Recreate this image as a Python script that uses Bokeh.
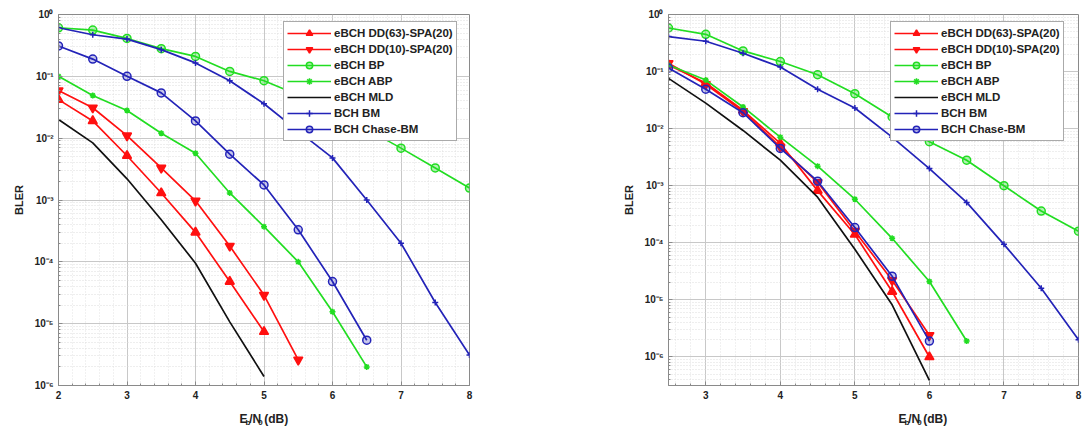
from bokeh.plotting import figure
from bokeh.layouts import row, column
from bokeh.models import FixedTicker, CustomJSTickFormatter, Legend
from bokeh.embed import file_html
from bokeh.resources import INLINE
from bokeh.core.properties import value

# ---------------- data ----------------
snr_left = [2.0, 2.5, 3.0, 3.5, 4.0, 4.5, 5.0, 5.5, 6.0, 6.5, 7.0, 7.5, 8.0]
snr_right = [2.5, 3.0, 3.5, 4.0, 4.5, 5.0, 5.5, 6.0, 6.5, 7.0, 7.5, 8.0]

dd63_left = [0.042, 0.019, 5.2e-3, 1.3e-3, 3.0e-4, 4.8e-5, 7.4e-6]
dd10_left = [0.059, 0.031, 0.011, 3.3e-3, 9.7e-4, 1.8e-4, 2.9e-5, 2.6e-6]
bp_left = [0.61, 0.56, 0.41, 0.28, 0.21, 0.12, 0.085, 0.05, 0.028, 0.014, 6.9e-3, 3.3e-3, 1.56e-3]
abp_left = [0.10, 0.049, 0.028, 0.012, 5.7e-3, 1.3e-3, 3.7e-4, 1.0e-4, 1.56e-5, 2.0e-6]
mld_left = [0.020, 8.4e-3, 2.2e-3, 4.8e-4, 9.5e-5, 1.07e-5, 1.4e-6]
bm_left = [0.61, 0.47, 0.40, 0.27, 0.165, 0.085, 0.036, 0.013, 4.8e-3, 1.0e-3, 2.0e-4, 2.2e-5, 3.1e-6]
chase_left = [0.31, 0.19, 0.10, 0.054, 0.019, 5.5e-3, 1.75e-3, 3.3e-4, 4.8e-5, 5.4e-6]

dd63_right = [0.13, 0.063, 0.021, 5.5e-3, 8.2e-4, 1.4e-4, 1.4e-5, 1.0e-6]
dd10_right = [0.14, 0.060, 0.020, 4.8e-3, 1.15e-3, 1.6e-4, 2.2e-5, 2.4e-6]
bp_right = [0.58, 0.45, 0.23, 0.15, 0.088, 0.041, 0.016, 5.9e-3, 2.8e-3, 1.0e-3, 3.6e-4, 1.6e-4]
abp_right = [0.13, 0.071, 0.024, 7.1e-3, 2.2e-3, 5.8e-4, 1.2e-4, 2.1e-5, 1.9e-6]
mld_right = [0.076, 0.028, 9.3e-3, 2.8e-3, 6.3e-4, 7.7e-5, 8.2e-6, 3.9e-7]
bm_right = [0.41, 0.34, 0.21, 0.12, 0.049, 0.023, 7.1e-3, 2.0e-3, 5.1e-4, 9.4e-5, 1.6e-5, 2.0e-6]
chase_right = [0.115, 0.049, 0.019, 4.5e-3, 1.2e-3, 1.85e-4, 2.6e-5, 1.9e-6]

series_names = ["eBCH DD(63)-SPA(20)", "eBCH DD(10)-SPA(20)", "eBCH BP", "eBCH ABP",
                "eBCH MLD", "BCH BM", "BCH Chase-BM"]
x_ticks_left = [2, 3, 4, 5, 6, 7, 8]
x_ticks_right = [3, 4, 5, 6, 7, 8]
y_decades = [-6, -5, -4, -3, -2, -1, 0]
# x label pieces: (text, kind, gap before in em of main font)
x_label_parts = [("E", "main", 0.0), ("b", "sub", 0.0), ("/N", "main", 0.0),
                 ("0", "sub", 0.0), ("(dB)", "main", 0.278)]

RED = "#FF1010"
GREEN = "#22DD22"
BLUE = "#2323B8"
FONT = "Liberation Sans"
TXT = "#222222"

styles = [
    dict(color=RED, marker="triangle", size=9, fill=RED, fill_alpha=1.0),
    dict(color=RED, marker="inverted_triangle", size=9, fill=RED, fill_alpha=1.0),
    dict(color=GREEN, marker="circle", size=8, fill=GREEN, fill_alpha=0.35),
    dict(color=GREEN, marker="asterisk", size=6, fill=GREEN, fill_alpha=1.0),
    dict(color="#111111", marker=None, size=0, fill=None, fill_alpha=0),
    dict(color=BLUE, marker="cross", size=6, fill=BLUE, fill_alpha=1.0),
    dict(color=BLUE, marker="circle", size=8, fill=BLUE, fill_alpha=0.25),
]

sup_code = """
const e = Math.round(Math.log10(tick));
const sup = {'-':'\u207b','0':'\u2070','1':'\u00b9','2':'\u00b2','3':'\u00b3','4':'\u2074','5':'\u2075','6':'\u2076','7':'\u2077','8':'\u2078','9':'\u2079'};
return '10' + String(e).split('').map(c => sup[c]).join('');
"""

# approximate advance widths (em) of Liberation Sans Bold, for laying out the x label
EM = {"E": 0.667, "b": 0.611, "/": 0.278, "N": 0.722, "0": 0.556, " ": 0.278,
      "(": 0.333, "d": 0.611, "B": 0.722, ")": 0.333}
MAIN_PX, SUB_PX = 12, 8

FIG_W, FIG_H, LAB_H = 543, 402, 30


def make_panel(snr, data, xr, yr, xticks, bl, br, legend_loc):
    p = figure(width=FIG_W, height=FIG_H, x_range=xr, y_range=yr, y_axis_type="log",
               output_backend="svg", toolbar_location=None,
               min_border_left=bl, min_border_right=br, min_border_top=14,
               min_border_bottom=17, background_fill_color="white",
               border_fill_color="white")
    p.outline_line_color = "#8a8a8a"
    p.outline_line_width = 1

    yt = [10.0 ** d for d in y_decades]
    ymin = [m * 10.0 ** d for d in range(-7, 0) for m in range(2, 10)]
    p.yaxis.ticker = FixedTicker(ticks=yt, minor_ticks=ymin)
    p.yaxis.formatter = CustomJSTickFormatter(code=sup_code)
    xmin = [x / 5 for x in range(10, 41)]
    p.xaxis.ticker = FixedTicker(ticks=xticks, minor_ticks=xmin)

    for ax in (p.xaxis[0], p.yaxis[0]):
        ax.axis_line_color = "#8a8a8a"
        ax.major_tick_line_color = "#8a8a8a"
        ax.minor_tick_line_color = "#8a8a8a"
        ax.major_tick_in = 4
        ax.major_tick_out = 0
        ax.minor_tick_in = 2
        ax.minor_tick_out = 0
        ax.major_label_text_font = FONT
        ax.major_label_text_font_size = "10px"
        ax.major_label_text_font_style = "bold"
        ax.major_label_text_color = TXT
    p.xaxis.major_label_standoff = 5
    p.yaxis.major_label_standoff = 5
    p.yaxis.axis_label = "BLER"
    p.yaxis.axis_label_text_font = FONT
    p.yaxis.axis_label_text_font_size = "11px"
    p.yaxis.axis_label_text_font_style = "bold"
    p.yaxis.axis_label_text_color = TXT
    p.yaxis.axis_label_standoff = 6

    p.xgrid.grid_line_color = "#c8c8c8"
    p.ygrid.grid_line_color = "#c8c8c8"
    p.xgrid.minor_grid_line_color = "#e2e2e2"
    p.ygrid.minor_grid_line_color = "#dcdcdc"
    p.xgrid.minor_grid_line_dash = "1 2"
    p.ygrid.minor_grid_line_dash = "1 2"

    items = []
    for name, vals, st in zip(series_names, data, styles):
        xs = snr[:len(vals)]
        rs = [p.line(xs, vals, line_color=st["color"], line_width=1.7)]
        if st["marker"] is not None:
            rs.append(p.scatter(xs, vals, marker=st["marker"], size=st["size"],
                                line_color=st["color"], line_width=1.5,
                                fill_color=st["fill"], fill_alpha=st["fill_alpha"]))
        items.append((name, rs))

    leg = Legend(items=items, location=legend_loc)
    leg.label_text_font = FONT
    leg.label_text_font_size = "11.5px"
    leg.label_text_font_style = "bold"
    leg.label_text_color = TXT
    leg.glyph_width = 44
    leg.glyph_height = 16
    leg.label_height = 16
    leg.label_standoff = 3
    leg.spacing = 0
    leg.padding = 3
    leg.margin = 0
    leg.border_line_color = "#555555"
    leg.border_line_width = 1
    leg.background_fill_alpha = 1.0
    p.add_layout(leg, "center")
    return p


def make_xlabel(center_px):
    f = figure(width=FIG_W, height=LAB_H, x_range=(0, FIG_W), y_range=(0, LAB_H),
               output_backend="svg", toolbar_location=None, min_border=0,
               x_axis_type=None, y_axis_type=None, outline_line_color=None,
               background_fill_color="white", border_fill_color="white")
    f.xgrid.visible = False
    f.ygrid.visible = False
    widths = []
    for t, k, gap in x_label_parts:
        px = MAIN_PX if k == "main" else SUB_PX
        widths.append((gap * MAIN_PX, sum(EM[c] for c in t) * px))
    total = sum(g + w for g, w in widths)
    x = center_px - total / 2
    for (t, k, _), (g, w) in zip(x_label_parts, widths):
        x += g
        f.text(x=[x], y=[14 if k == "main" else 10.5], text=[t],
               text_font=value(FONT), text_font_style="bold",
               text_font_size=value(f"{MAIN_PX if k == 'main' else SUB_PX}px"),
               text_color=TXT, text_align="left", text_baseline="alphabetic")
        x += w
    return f


left = make_panel(snr_left,
                  [dd63_left, dd10_left, bp_left, abp_left, mld_left, bm_left, chase_left],
                  (2, 8), (1e-6, 1.0), x_ticks_left, 58, 74, (225, 244))
right = make_panel(snr_right,
                   [dd63_right, dd10_right, bp_right, abp_right, mld_right, bm_right, chase_right],
                   (2.5, 8), (10 ** -6.5, 1.0), x_ticks_right, 125, 8, (222, 244))

left_lab = make_xlabel(58 + (FIG_W - 58 - 74) / 2 + 4)
right_lab = make_xlabel(125 + (FIG_W - 125 - 8) / 2 + 3)

layout = row(column(left, left_lab, spacing=0), column(right, right_lab, spacing=0), spacing=0)
open("out.html", "w").write(file_html(layout, INLINE))
